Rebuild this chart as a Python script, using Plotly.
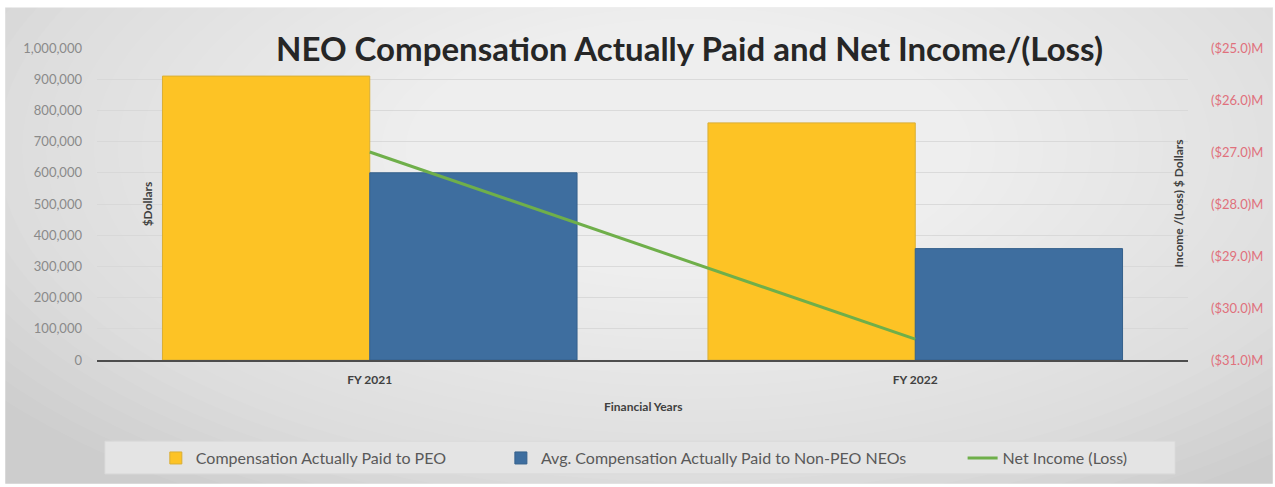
import plotly.graph_objects as go

categories = ["FY 2021", "FY 2022"]
peo_cap = [910000, 760000]
non_peo_cap = [600000, 357000]
net_income_m = [-27.0, -30.6]
right_ticks = [-25, -26, -27, -28, -29, -30, -31]
right_tick_text = ["($25.0)M", "($26.0)M", "($27.0)M", "($28.0)M", "($29.0)M", "($30.0)M", "($31.0)M"]
left_ticks = [0, 100000, 200000, 300000, 400000, 500000, 600000, 700000, 800000, 900000, 1000000]
left_tick_text = ["0", "100,000", "200,000", "300,000", "400,000", "500,000", "600,000",
                  "700,000", "800,000", "900,000", "1,000,000"]

W, H = 1275, 487
L, R, T, B = 97, 84, 48, 124
pw, ph = W - L - R, H - T - B

def px(x):
    return (x - L) / pw

def py(y):
    return (H - B - y) / ph

FONT = "Lato"

fig = go.Figure()
fig.add_trace(go.Bar(x=categories, y=peo_cap, name="Compensation Actually Paid to PEO", legend="legend",
                     marker=dict(color="#FDC325", line=dict(color="#D9AE35", width=1))))
fig.add_trace(go.Bar(x=categories, y=non_peo_cap, name="Avg. Compensation Actually Paid to Non-PEO NEOs",
                     legend="legend2",
                     marker=dict(color="#3E6E9F", line=dict(color="#35618C", width=1))))
fig.add_trace(go.Scatter(x=categories, y=net_income_m, name="Net Income (Loss)", yaxis="y2", legend="legend3",
                         mode="lines", line=dict(color="#6FAF4A", width=3)))

shapes = []
# chart area background
shapes.append(dict(type="rect", xref="paper", yref="paper", x0=px(5), x1=px(1276), y0=py(488), y1=py(7),
                   fillcolor="#cdcdcd", line=dict(width=0), layer="below"))
# radial-ish highlight
cx, cy = 690, 150
n = 32
for i in range(n):
    rx = 860 - i * 24
    ry = 420 - i * 12
    shapes.append(dict(type="circle", xref="paper", yref="paper",
                       x0=px(cx - rx), x1=px(cx + rx), y0=py(cy + ry), y1=py(cy - ry),
                       fillcolor="rgba(255,255,255,0.055)", line=dict(width=0), layer="below"))
# legend box
shapes.append(dict(type="rect", xref="paper", yref="paper", x0=px(105), x1=px(1178), y0=py(478), y1=py(445),
                   fillcolor="#e4e4e4", line=dict(color="#dadada", width=1), layer="below"))

annotations = [
    dict(text="NEO Compensation Actually Paid and Net Income/(Loss)", x=px(691), y=py(48),
         xref="paper", yref="paper", showarrow=False, xanchor="center", yanchor="middle",
         font=dict(family=FONT, size=33, color="#262626", weight="bold")),
    dict(text="$Dollars", x=px(148), y=py(205), xref="paper", yref="paper", showarrow=False,
         textangle=-90, xanchor="center", yanchor="middle",
         font=dict(family=FONT, size=12, color="#404040", weight="bold")),
    dict(text="Income /(Loss) $ Dollars", x=px(1181), y=py(205), xref="paper", yref="paper",
         showarrow=False, textangle=-90, xanchor="center", yanchor="middle",
         font=dict(family=FONT, size=12, color="#404040", weight="bold")),
    dict(text="Financial Years", x=px(644), y=py(410), xref="paper", yref="paper", showarrow=False,
         xanchor="center", yanchor="middle",
         font=dict(family=FONT, size=12, color="#404040", weight="bold")),
]

legend_font = dict(family=FONT, size=16, color="#595959")
def legend_at(text_x):
    return dict(orientation="h", x=px(text_x - 42), y=py(462), xanchor="left", yanchor="middle",
                bgcolor="rgba(0,0,0,0)", font=legend_font, itemwidth=30)

fig.update_layout(
    width=W, height=H,
    margin=dict(l=L, r=R, t=T, b=B),
    paper_bgcolor="white",
    plot_bgcolor="rgba(0,0,0,0)",
    barmode="group", bargap=0.24, bargroupgap=0,
    font=dict(family=FONT, color="#808080"),
    shapes=shapes,
    annotations=annotations,
    showlegend=True,
    legend=legend_at(198),
    legend2=legend_at(544),
    legend3=legend_at(1007),
    xaxis=dict(showgrid=False, showline=True, linecolor="#4d4d4d", linewidth=2,
               tickfont=dict(family=FONT, size=12, color="#404040", weight="bold"),
               ticks="", ticklabelstandoff=8),
    yaxis=dict(range=[0, 1000000], tickvals=left_ticks, ticktext=left_tick_text,
               showgrid=True, gridcolor="rgba(215,215,215,0.9)", gridwidth=1, zeroline=False,
               tickfont=dict(family=FONT, size=13, color="#8a8a8a"), ticklabelstandoff=14),
    yaxis2=dict(overlaying="y", side="right", range=[-31, -25], tickvals=right_ticks,
                ticktext=right_tick_text, showgrid=False, zeroline=False,
                tickfont=dict(family=FONT, size=13, color="#E0707C"), ticklabelstandoff=22),
)

fig.write_html("out.html", config={"displayModeBar": False},
               post_script="document.body.style.margin='0';")
